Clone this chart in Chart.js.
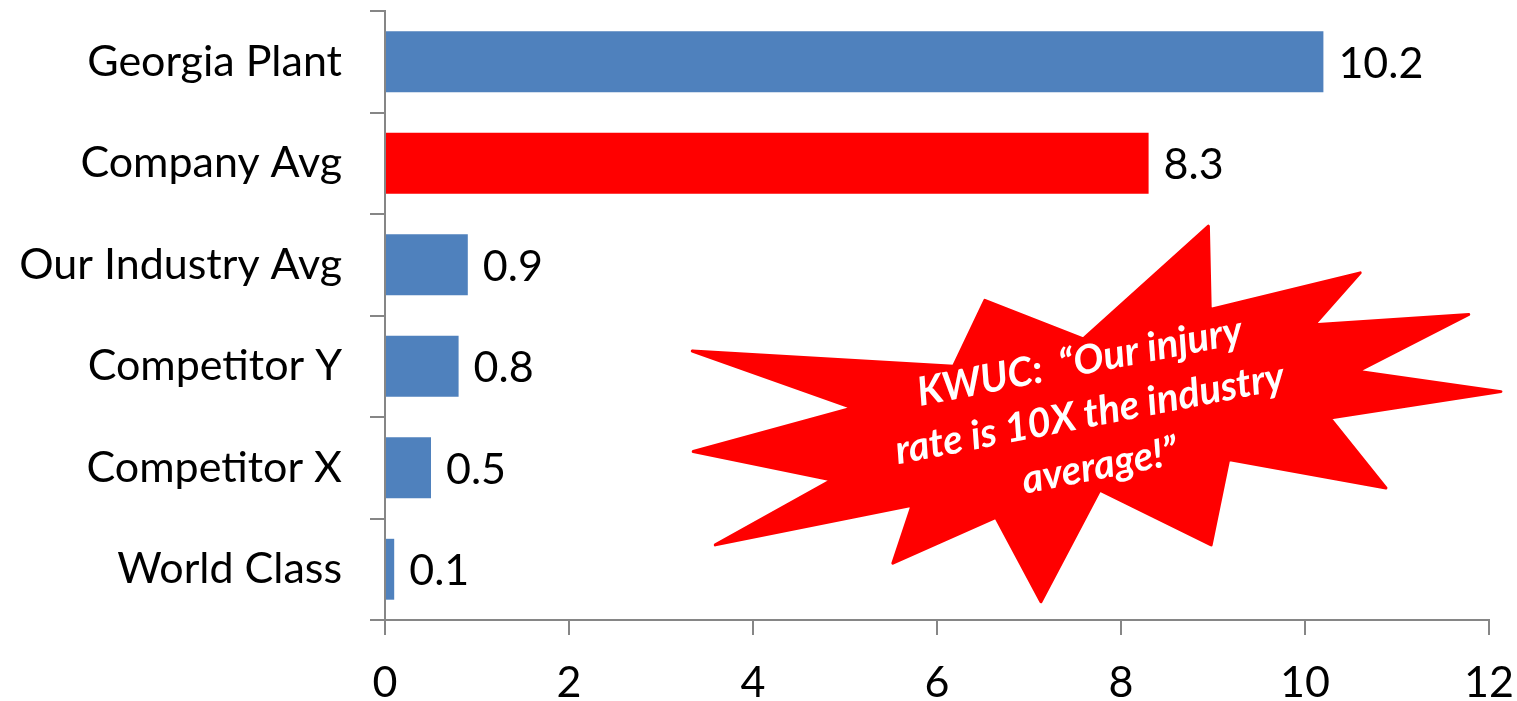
<!DOCTYPE html>
<html>
<head>
<meta charset="utf-8">
<script src="https://cdn.jsdelivr.net/npm/chart.js@4"></script>
<style>
  html, body { margin: 0; padding: 0; background: #fff; }
  #wrap { width: 1517px; height: 701px; }
</style>
</head>
<body>
<div id="wrap"><canvas id="barChart" width="1517" height="701"></canvas></div>
<script>
// categories + values (top to bottom)
const categories = ['Georgia Plant', 'Company Avg', 'Our Industry Avg', 'Competitor Y', 'Competitor X', 'World Class'];
const rates = [10.2, 8.3, 0.9, 0.8, 0.5, 0.1];
const barColors = ['#4F81BD', '#FF0000', '#4F81BD', '#4F81BD', '#4F81BD', '#4F81BD'];
const xTicks = [0, 2, 4, 6, 8, 10, 12];

// callout text
const calloutLines = ['KWUC:  \u201COur injury', 'rate is 10X the industry', 'average!\u201D'];

// starburst outline in axis units: [x value, category index]
const starX = [8.95, 8.97, 10.60, 10.10, 11.78, 10.57, 12.13, 10.27, 10.88, 9.17, 8.98, 7.77, 7.13, 6.64, 5.52, 5.73, 3.59, 4.86, 3.35, 5.08, 3.34, 6.18, 6.52, 7.59];
const starY = [1.62, 2.44, 2.08, 2.59, 2.49, 3.05, 3.25, 3.51, 4.20, 3.92, 4.76, 4.22, 5.32, 4.49, 4.94, 4.37, 4.76, 4.12, 3.84, 3.41, 2.85, 3.00, 2.35, 2.73];

const FONT = 'Lato, "Open Sans", sans-serif';
const axisGrey = '#868686';

// value labels at the end of each bar
const valueLabels = {
    id: 'valueLabels',
    afterDatasetsDraw(chart) {
        const ctx = chart.ctx;
        const meta = chart.getDatasetMeta(0);
        ctx.save();
        ctx.font = '43px ' + FONT;
        ctx.fillStyle = '#000';
        ctx.textAlign = 'left';
        ctx.textBaseline = 'middle';
        meta.data.forEach((bar, i) => {
            ctx.fillText(String(rates[i]), bar.x + 15, bar.y + 2);
        });
        ctx.restore();
    }
};

// red starburst callout
const starburst = {
    id: 'starburst',
    afterDraw(chart) {
        const ctx = chart.ctx;
        const xs = chart.scales.x, ys = chart.scales.y;
        const yPix = v => ys.getPixelForValue(0) + v * (ys.getPixelForValue(1) - ys.getPixelForValue(0));
        ctx.save();
        ctx.beginPath();
        starX.forEach((v, i) => {
            const px = xs.getPixelForValue(v), py = yPix(starY[i]);
            if (i === 0) ctx.moveTo(px, py); else ctx.lineTo(px, py);
        });
        ctx.closePath();
        ctx.fillStyle = '#FF0000';
        ctx.lineJoin = 'round';
        ctx.strokeStyle = '#FF0000';
        ctx.lineWidth = 3;
        ctx.fill();
        ctx.stroke();

        const cx = xs.getPixelForValue(7.66), cy = yPix(3.47);
        ctx.translate(cx, cy);
        ctx.rotate(-11 * Math.PI / 180);
        ctx.fillStyle = '#fff';
        ctx.font = 'italic bold 40px ' + FONT;
        ctx.textAlign = 'center';
        ctx.textBaseline = 'middle';
        calloutLines.forEach((t, i) => {
            ctx.fillText(t, 0, (i - 1) * 53);
        });
        ctx.restore();
    }
};

new Chart(document.getElementById('barChart').getContext('2d'), {
    type: 'bar',
    data: {
        labels: categories,
        datasets: [{
            data: rates,
            backgroundColor: barColors,
            barPercentage: 0.6,
            categoryPercentage: 1
        }]
    },
    options: {
        indexAxis: 'y',
        responsive: false,
        animation: false,
        layout: { padding: { top: 11, right: 28, left: 0, bottom: 0 } },
        plugins: {
            legend: { display: false },
            tooltip: { enabled: false }
        },
        scales: {
            x: {
                min: 0,
                max: 12,
                afterBuildTicks: s => { s.ticks = xTicks.map(v => ({ value: v })); },
                afterFit: s => { s.height = 81; s.paddingLeft = 0; s.paddingRight = 0; },
                grid: { drawOnChartArea: false, color: axisGrey, lineWidth: 2, tickLength: 15 },
                border: { color: axisGrey, width: 2 },
                ticks: { color: '#000', font: { family: FONT, size: 43 }, padding: 22 }
            },
            y: {
                afterFit: s => { s.width = 385; s.paddingTop = 0; s.paddingBottom = 0; },
                grid: { drawOnChartArea: false, color: axisGrey, lineWidth: 2, tickLength: 15, offset: true },
                border: { color: axisGrey, width: 2 },
                ticks: { color: '#000', font: { family: FONT, size: 43 }, padding: 28 }
            }
        }
    },
    plugins: [valueLabels, starburst]
});
</script>
</body>
</html>
